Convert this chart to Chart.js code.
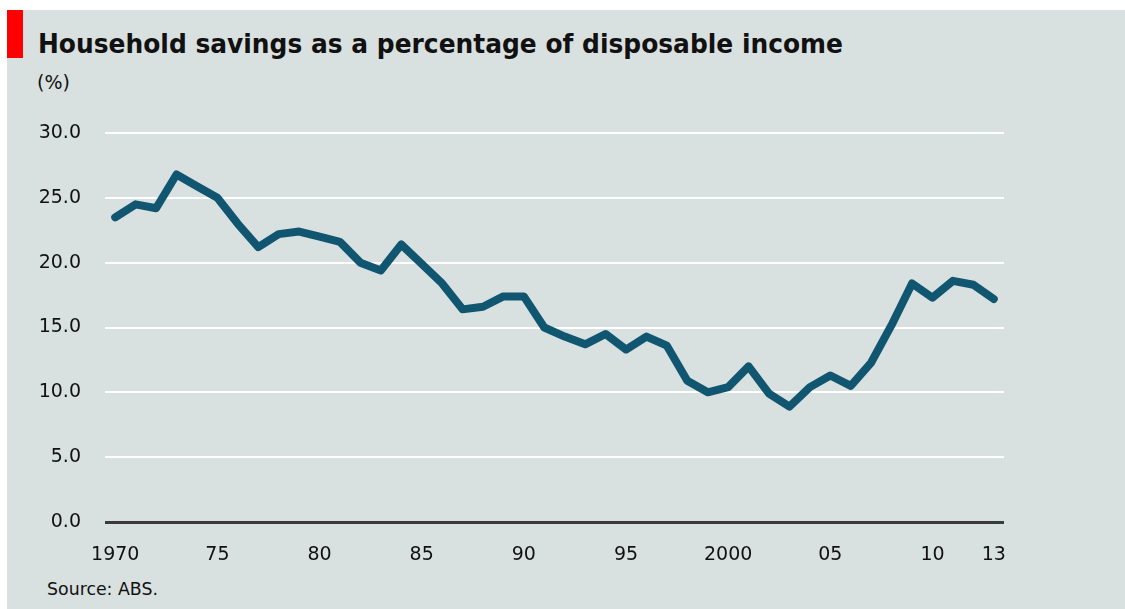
<!DOCTYPE html>
<html>
<head>
<meta charset="utf-8">
<script src="https://cdn.jsdelivr.net/npm/chart.js@4.4.1/dist/chart.umd.min.js"></script>
<style>
  html, body { margin: 0; padding: 0; background: #fff; }
  body { width: 1125px; height: 609px; position: relative; overflow: hidden; font-family: 'DejaVu Sans', sans-serif; }
  #panel { position: absolute; left: 7px; top: 10px; right: 0; bottom: 0; background: #d9e0e0; }
  #redbar { position: absolute; left: 7px; top: 10px; width: 16px; height: 48px; background: #ff0000; }
  .txt { position: absolute; white-space: nowrap; transform-origin: 0 0; color: #111; }
  #title { left: 38px; top: 30px; font-size: 27px; line-height: 27px; font-weight: bold; }
  #unit { left: 37px; top: 73px; font-size: 19px; line-height: 19px; }
  #source { left: 47px; top: 580px; font-size: 18px; line-height: 18px; }
  #wrap { position: absolute; left: 0; top: 0; width: 1125px; height: 609px; }
  #myChart { display: block; }
</style>
</head>
<body>
<div id="panel"></div>
<div id="redbar"></div>
<div class="txt" id="title" data-w="805">Household savings as a percentage of disposable income</div>
<div class="txt" id="unit">(%)</div>
<div class="txt" id="source" data-w="111">Source: ABS.</div>
<div id="wrap"><canvas id="myChart" width="1125" height="609"></canvas></div>
<script>
// Household savings ratio, % of disposable income
const years = [
  1970, 1971, 1972, 1973, 1974, 1975, 1976, 1977, 1978, 1979,
  1980, 1981, 1982, 1983, 1984, 1985, 1986, 1987, 1988, 1989,
  1990, 1991, 1992, 1993, 1994, 1995, 1996, 1997, 1998, 1999,
  2000, 2001, 2002, 2003, 2004, 2005, 2006, 2007, 2008, 2009,
  2010, 2011, 2012, 2013
];
const savings = [
  23.5, 24.5, 24.2, 26.8, 25.9, 25.0, 23.0, 21.2, 22.2, 22.4,
  22.0, 21.6, 20.0, 19.4, 21.4, 19.9, 18.4, 16.4, 16.6, 17.4,
  17.4, 15.0, 14.3, 13.7, 14.5, 13.3, 14.3, 13.6, 10.9, 10.0,
  10.4, 12.0, 9.9, 8.9, 10.4, 11.3, 10.5, 12.3, 15.2, 18.4,
  17.3, 18.6, 18.3, 17.2
];
const xTicks = [1970, 1975, 1980, 1985, 1990, 1995, 2000, 2005, 2010, 2013];
const xTickLabels = ['1970', '75', '80', '85', '90', '95', '2000', '05', '10', '13'];
const yTicks = [0, 5, 10, 15, 20, 25, 30];

// squeeze the html texts to the widths in the picture
document.querySelectorAll('.txt[data-w]').forEach(el => {
  const w = el.getBoundingClientRect().width;
  el.style.transform = 'scaleX(' + (parseFloat(el.dataset.w) / w) + ')';
});

const ctx = document.getElementById('myChart');
const tickFont = { family: 'DejaVu Sans', size: 19 };

new Chart(ctx, {
  type: 'line',
  data: {
    datasets: [{
      label: 'Household savings',
      data: years.map((y, i) => ({ x: y, y: savings[i] })),
      borderColor: '#115671',
      borderWidth: 8,
      borderJoinStyle: 'round',
      borderCapStyle: 'round',
      pointRadius: 0,
      tension: 0,
      fill: false
    }]
  },
  options: {
    responsive: false,
    animation: false,
    layout: { padding: { left: 0, right: 121, top: 133, bottom: 0 } },
    plugins: { legend: { display: false }, tooltip: { enabled: false } },
    scales: {
      x: {
        type: 'linear',
        min: 1969.5,
        max: 2013.5,
        afterBuildTicks: s => { s.ticks = xTicks.map(v => ({ value: v })); },
        afterFit: s => { s.height = 87; },
        grid: { display: false, drawTicks: false },
        border: { display: false },
        ticks: {
          autoSkip: false,
          maxRotation: 0,
          padding: 22,
          color: '#111',
          font: tickFont,
          callback: v => xTickLabels[xTicks.indexOf(v)]
        }
      },
      y: {
        min: 0,
        max: 30,
        afterBuildTicks: s => { s.ticks = yTicks.map(v => ({ value: v })); },
        afterFit: s => { s.width = 105; },
        grid: {
          drawTicks: false,
          color: c => c.tick && c.tick.value === 0 ? '#3a3a3a' : '#ffffff',
          lineWidth: c => c.tick && c.tick.value === 0 ? 3 : 2
        },
        border: { display: false },
        ticks: {
          padding: 24,
          color: '#111',
          font: tickFont,
          callback: v => v.toFixed(1)
        }
      }
    }
  }
});
</script>
</body>
</html>
